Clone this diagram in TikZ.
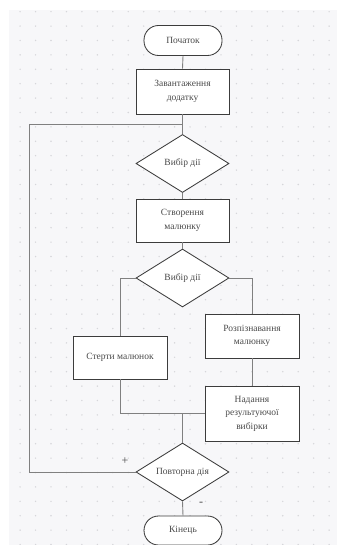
\documentclass[tikz,border=0pt]{standalone}
\usepackage{fontspec}
\setmainfont{Liberation Serif}
\newfontfamily\flowfont{Liberation Serif}
\usetikzlibrary{shapes.geometric}
\definecolor{bgc}{HTML}{F7F7F9}
\definecolor{dotc}{HTML}{D6D6DA}
\definecolor{linec}{HTML}{808080}
\definecolor{borderc}{HTML}{3C3C3C}
\definecolor{textc}{HTML}{4A4A4A}
\tikzset{
  base/.style={draw=borderc, line width=0.85pt, fill=white, text=textc, inner sep=0pt,
    font=\flowfont\fontsize{9.5}{13.5}\selectfont, align=center},
  term/.style={base, rectangle, rounded corners=14.5pt, minimum width=78pt, minimum height=30pt},
  proc/.style={base, rectangle, minimum width=93pt},
  dec/.style={base, diamond, aspect=1.6, minimum width=93pt, minimum height=58pt},
  conn/.style={draw=linec, line width=0.9pt},
  sign/.style={text=textc, font=\flowfont\fontsize{12}{14}\selectfont}
}
\begin{document}
\begin{tikzpicture}[x=1pt,y=-1pt]
\useasboundingbox (0,0) rectangle (337,545);
\fill[bgc] (9,10) rectangle (337,545);
\begin{scope}
\clip (9,10) rectangle (337,545);
\foreach \i in {0,...,20} {
  \foreach \j in {0,...,37} {
    \fill[dotc] (20.1+\i*15.45, 11.7+\j*14.4) circle (0.8pt);
  }
}
\end{scope}
% connectors
\coordinate (loopin) at (182.5,124);
\coordinate (join) at (182.5,413.5);
% nodes
\node[term] (start) at (183,40.5) {Початок};
\node[proc, minimum height=45pt] (load) at (182.5,91.5) {Завантаження\\додатку};
\node[dec] (d1) at (182.5,163.5) {Вибір дії};
\node[proc, minimum height=43pt] (create) at (182.5,220.5) {Створення\\малюнку};
\node[dec] (d2) at (182.5,278) {Вибір дії};
\node[proc, minimum width=94pt, minimum height=43pt] (erase) at (120,357.5) {Стерти малюнок};
\node[proc, minimum width=94pt, minimum height=44pt] (recog) at (252,336) {Розпізнавання\\малюнку};
\node[proc, minimum width=94pt, minimum height=55pt] (result) at (252,413.5) {Надання\\результуючої\\вибірки};
\node[dec] (d3) at (182.5,472) {Повторна дія};
\node[term, minimum height=29pt] (stop) at (183,530.5) {Кінець};
\draw[conn] (start.south) -- (load.north);
\draw[conn] (load.south) -- (d1.north);
\draw[conn] (d3.west) -- (29,472) -- (29,124) -- (loopin);
\draw[conn] (d1.south) -- (create.north);
\draw[conn] (create.south) -- (d2.north);
\draw[conn] (d2.west) -| (erase.north);
\draw[conn] (d2.east) -| (recog.north);
\draw[conn] (recog.south) -- (result.north);
\draw[conn] (erase.south) |- (join);
\draw[conn] (result.west) -- (join);
\draw[conn] (join) -- (d3.north);
\draw[conn] (d3.south) -- (stop.north);
\node[sign] (plus) at (125,461) {+};
\node[sign] (minus) at (201,504) {-};
\end{tikzpicture}
\end{document}
